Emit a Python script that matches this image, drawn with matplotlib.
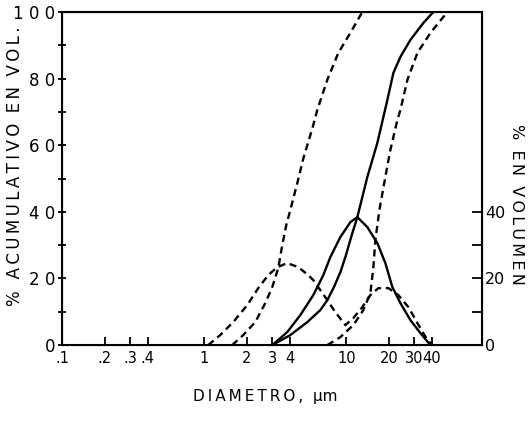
import matplotlib.pyplot as plt
from matplotlib.ticker import FixedLocator, NullFormatter

# --- data (diameter in um, percent) ---
# polimerica, cumulative (left and right curves)
pol_cum1_x = [1.575, 1.882, 2.287, 2.689, 3.012, 3.32, 3.542, 3.78, 4.033, 4.518,
              4.981, 5.763, 6.249, 7.348, 8.784, 10.67, 12.96]
pol_cum1_y = [0, 3.0, 6.9, 12.6, 17.4, 23.1, 30.0, 36.0, 40.5, 48.6,
              56.0, 65.0, 70.6, 79.6, 87.7, 93.7, 100]
pol_cum2_x = [7.348, 9.072, 11.2, 13.17, 14.76, 15.5, 16.0, 17.08, 18.82, 20.41,
              22.87, 24.01, 26.89, 31.62, 39.04, 51.44]
pol_cum2_y = [0, 2.4, 6.0, 10.5, 15.6, 23.4, 31.5, 40.5, 50.5, 58.6,
              67.6, 70.6, 79.6, 87.7, 93.7, 100]
# polimerica, volume distribution
pol_dist_x = [1.067, 1.296, 1.60, 2.009, 2.401, 2.823, 3.267, 3.841, 4.592, 5.40,
              5.856, 6.56, 7.348, 8.365, 9.84, 11.2, 12.96, 14.76, 16.8, 19.76,
              23.24, 27.33, 31.62, 37.19, 40.33]
pol_dist_y = [0, 3.0, 6.9, 12.0, 17.1, 21.0, 23.4, 24.6, 23.4, 21.0,
              19.5, 16.5, 13.5, 9.9, 6.0, 8.1, 11.4, 15.0, 17.1, 17.1,
              15.0, 11.4, 6.6, 1.5, 0]
# coloidal, cumulative
col_cum_x = [3.012, 4.033, 5.313, 6.56, 7.35, 8.2, 9.1, 9.84, 11.02, 11.95,
             14.06, 16.53, 19.44, 21.43, 24.01, 28.23, 34.85, 41.0]
col_cum_y = [0, 3.0, 6.9, 10.5, 13.5, 17.5, 22.0, 26.4, 33.6, 38.4,
             50.5, 60.7, 73.6, 81.7, 86.5, 91.6, 96.7, 100]
# coloidal, volume distribution
col_dist_x = [3.012, 3.841, 4.745, 5.856, 6.887, 7.715, 9.072, 10.67, 11.95, 14.06,
              16.53, 18.82, 21.08, 24.01, 28.23, 33.2, 39.04]
col_dist_y = [0, 3.9, 9.0, 15.0, 21.0, 26.4, 32.4, 36.9, 38.4, 35.4,
              30.6, 24.6, 17.4, 12.6, 7.5, 3.6, 0]

x_ticks = [0.1, 0.2, 0.3, 0.4, 1, 2, 3, 4, 10, 20, 30, 40]
x_tick_labels = [".1", ".2", ".3", ".4", "1", "2", "3", "4", "10", "20", "30", "40"]
y_ticks = [0, 20, 40, 60, 80, 100]
y_tick_labels = ["0", "2 0", "4 0", "6 0", "8 0", "1 0 0"]
y2_ticks = [0, 20, 40]
y2_tick_labels = ["0", "20", "40"]

TS = "\u2009"


def spaced(s):
    return TS.join(s)


fig = plt.figure(figsize=(5.31, 4.25), dpi=100)
ax = fig.add_axes([0.1168, 0.188, 0.7909, 0.784])

lw = 1.7
dash = (0, (3.0, 2.0))
ax.plot(col_cum_x, col_cum_y, color="black", lw=lw)
ax.plot(col_dist_x, col_dist_y, color="black", lw=lw)
ax.plot(pol_cum1_x, pol_cum1_y, color="black", lw=lw, linestyle=dash)
ax.plot(pol_cum2_x, pol_cum2_y, color="black", lw=lw, linestyle=dash)
ax.plot(pol_dist_x, pol_dist_y, color="black", lw=lw, linestyle=dash)

ax.set_xscale("log")
ax.set_xlim(0.1, 90)
ax.set_ylim(0, 100)

ax.xaxis.set_major_locator(FixedLocator(x_ticks))
ax.xaxis.set_minor_locator(FixedLocator([]))
ax.xaxis.set_minor_formatter(NullFormatter())
ax.set_xticklabels(x_tick_labels)
ax.set_yticks(y_ticks)
ax.set_yticklabels(y_tick_labels)
ax.yaxis.set_minor_locator(FixedLocator([10, 30, 50, 70, 90]))

ax.tick_params(axis="x", direction="in", length=6, width=1.3, labelsize=10.5, pad=4)
ax.tick_params(axis="y", which="both", direction="inout", length=6, width=1.3,
               labelsize=12, pad=2)

for side in ["left", "bottom", "right", "top"]:
    ax.spines[side].set_linewidth(1.5)

ax2 = ax.twinx()
ax2.set_ylim(0, 100)
ax2.set_yticks(y2_ticks)
ax2.set_yticklabels(y2_tick_labels)
ax2.yaxis.set_minor_locator(FixedLocator([10, 30]))
ax2.tick_params(axis="y", which="both", direction="in", length=7, width=1.3,
                labelsize=11.5, pad=2)

# legend drawn by hand like the original
ax.plot([0.165, 0.21], [65.5, 65.5], transform=ax.get_xaxis_transform(),
        color="black", lw=lw)
ax.plot([0.165, 0.21], [55.8, 55.8], transform=ax.get_xaxis_transform(),
        color="black", lw=lw, linestyle=dash)
ax.text(0.225, 65.5, spaced("COLOIDAL"), va="center", ha="left", fontsize=11,
        transform=ax.get_xaxis_transform())
ax.text(0.225, 55.8, spaced("POLIMERICA"), va="center", ha="left", fontsize=11,
        transform=ax.get_xaxis_transform())

fig.text(0.5, 0.066, spaced("DIAMETRO,") + "  \u03bcm", ha="center", va="center",
         fontsize=11)
fig.text(0.028, 0.61, spaced("% ACUMULATIVO") + "  " + spaced("EN") + "  " + spaced("VOL."),
         rotation=90, ha="center", va="center", fontsize=12)
fig.text(0.972, 0.52, spaced("%") + "  " + spaced("EN") + "  " + spaced("VOLUMEN"),
         rotation=-90, ha="center", va="center", fontsize=11.5)

fig.savefig("out.png", dpi=100)
